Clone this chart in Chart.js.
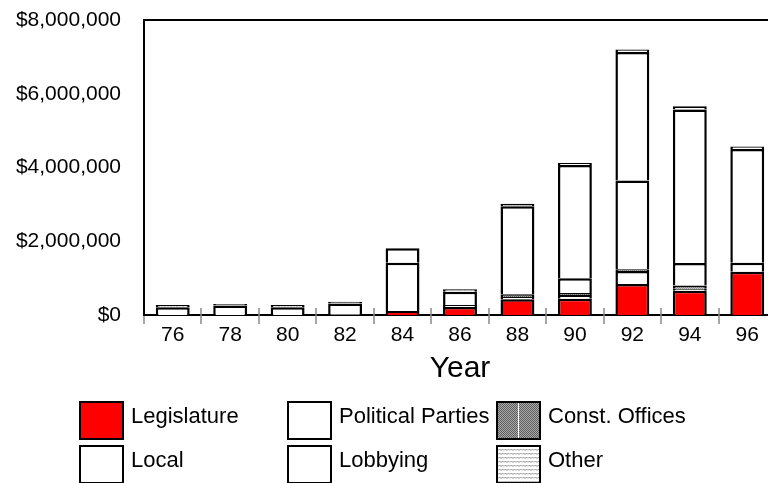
<!DOCTYPE html>
<html>
<head>
<meta charset="utf-8">
<script src="https://cdn.jsdelivr.net/npm/chart.js@4"></script>
<style>
  html, body { margin: 0; padding: 0; width: 768px; height: 483px; overflow: hidden; background: #fff; }
  canvas { display: block; }
</style>
</head>
<body>
<canvas id="chart" width="776" height="483"></canvas>
<script>
// Campaign spending by year, stacked by category (dollars)
const years = ['76', '78', '80', '82', '84', '86', '88', '90', '92', '94', '96'];
const legislature      = [0, 0, 0, 0, 110000, 220000, 430000, 440000, 840000, 660000, 1170000];
const local            = [0, 0, 0, 30000, 0, 50000, 60000, 100000, 350000, 50000, 0];
const constOffices     = [0, 0, 0, 0, 0, 0, 70000, 60000, 50000, 90000, 0];
const politicalParties = [0, 0, 0, 0, 1310000, 0, 0, 400000, 2410000, 610000, 250000];
const lobbying         = [210000, 260000, 210000, 280000, 390000, 360000, 2390000, 3070000, 3480000, 4160000, 3080000];
const other            = [60000, 40000, 60000, 50000, 0, 70000, 70000, 50000, 70000, 90000, 70000];
const yTicks = [0, 2000000, 4000000, 6000000, 8000000];

const FONT = '"Liberation Sans", Arial, sans-serif';

// fill patterns
function checkerPattern() {
  const c = document.createElement('canvas');
  c.width = 2; c.height = 2;
  const g = c.getContext('2d');
  g.fillStyle = '#a9a9a9'; g.fillRect(0, 0, 2, 2);
  g.fillStyle = '#5e5e5e'; g.fillRect(0, 0, 1, 1); g.fillRect(1, 1, 1, 1);
  return g.createPattern(c, 'repeat');
}
function wavyPattern() {
  const c = document.createElement('canvas');
  c.width = 6; c.height = 4;
  const g = c.getContext('2d');
  g.fillStyle = '#ffffff'; g.fillRect(0, 0, 6, 4);
  g.strokeStyle = '#8c8c8c'; g.lineWidth = 1;
  g.beginPath();
  g.moveTo(0, 2.5); g.lineTo(1.5, 1); g.lineTo(3, 2.5); g.lineTo(4.5, 1); g.lineTo(6, 2.5);
  g.stroke();
  return g.createPattern(c, 'repeat');
}

const fills = {
  red: '#ff0000',
  white: '#ffffff',
  checker: checkerPattern(),
  wavy: wavyPattern()
};

function series(label, data, fill) {
  return {
    label, data,
    backgroundColor: fill,
    borderColor: '#000000',
    borderWidth: 2.5,
    borderSkipped: 'start',
    categoryPercentage: 1.0,
    barPercentage: 0.59
  };
}

// legend grid: [dataset index, column, row]
const legendCells = [
  [0, 0, 0], [3, 1, 0], [2, 2, 0],
  [1, 0, 1], [4, 1, 1], [5, 2, 1]
];
const legendColX = [80, 288, 497];
const legendRowY = [402, 446];

const extras = {
  id: 'extras',
  afterDraw(chart) {
    const { ctx, chartArea, scales } = chart;
    const x = scales.x;
    ctx.save();
    // top frame line
    ctx.strokeStyle = '#000';
    ctx.lineWidth = 2;
    ctx.beginPath();
    ctx.moveTo(chartArea.left - 1, chartArea.top);
    ctx.lineTo(chartArea.right, chartArea.top);
    ctx.stroke();

    // category boundary tick marks crossing the axis
    const step = x.getPixelForValue(1) - x.getPixelForValue(0);
    ctx.strokeStyle = '#8a8a8a';
    ctx.lineWidth = 1.5;
    for (let i = 0; i <= years.length; i++) {
      const bx = Math.round(x.getPixelForValue(i) - step / 2);
      ctx.beginPath();
      ctx.moveTo(bx, i === 0 ? chartArea.bottom + 1 : chartArea.bottom - 7);
      ctx.lineTo(bx, chartArea.bottom + 9);
      ctx.stroke();
    }

    // legend
    ctx.font = '22px ' + FONT;
    ctx.textBaseline = 'middle';
    ctx.textAlign = 'left';
    legendCells.forEach(([di, col, row]) => {
      const ds = chart.data.datasets[di];
      const sx = legendColX[col], sy = legendRowY[row];
      const w = 43, h = 37;
      ctx.fillStyle = ds.backgroundColor;
      ctx.fillRect(sx, sy, w, h);
      if (di === 2) {
        ctx.strokeStyle = '#ffffff';
        ctx.lineWidth = 1;
        ctx.beginPath();
        ctx.moveTo(sx + w / 2, sy);
        ctx.lineTo(sx + w / 2, sy + h);
        ctx.stroke();
      }
      ctx.strokeStyle = '#000';
      ctx.lineWidth = 2;
      ctx.strokeRect(sx, sy, w, h);
      ctx.fillStyle = '#000';
      ctx.fillText(ds.label, sx + 51, sy + 14.5);
    });
    ctx.restore();
  }
};

new Chart(document.getElementById('chart'), {
  type: 'bar',
  data: {
    labels: years,
    datasets: [
      series('Legislature', legislature, fills.red),
      series('Local', local, fills.white),
      series('Const. Offices', constOffices, fills.checker),
      series('Political Parties', politicalParties, fills.white),
      series('Lobbying', lobbying, fills.white),
      series('Other', other, fills.wavy)
    ]
  },
  options: {
    responsive: false,
    animation: false,
    devicePixelRatio: 1,
    layout: { padding: { top: 20, bottom: 93, left: 0, right: 0 } },
    plugins: {
      legend: { display: false },
      tooltip: { enabled: false }
    },
    scales: {
      x: {
        stacked: true,
        offset: true,
        grid: { display: false, drawTicks: false },
        border: { display: true, color: '#000', width: 2 },
        ticks: { color: '#000', padding: 8, font: { family: FONT, size: 21 } },
        title: {
          display: true, text: 'Year', color: '#000',
          font: { family: FONT, size: 30 },
          padding: { top: 0, bottom: 3 }
        },
        afterFit(scale) { scale.height = 75; scale.paddingLeft = 0; scale.paddingRight = 0; }
      },
      y: {
        stacked: true,
        min: 0,
        max: 8000000,
        grid: { display: false, drawTicks: false },
        border: { display: true, color: '#000', width: 2 },
        afterBuildTicks(scale) { scale.ticks = yTicks.map(v => ({ value: v })); },
        ticks: {
          color: '#000',
          padding: 23,
          font: { family: FONT, size: 21 },
          callback: v => '$' + Number(v).toLocaleString('en-US')
        },
        afterFit(scale) { scale.width = 144; scale.paddingTop = 0; scale.paddingBottom = 0; }
      }
    }
  },
  plugins: [extras]
});
</script>
</body>
</html>
